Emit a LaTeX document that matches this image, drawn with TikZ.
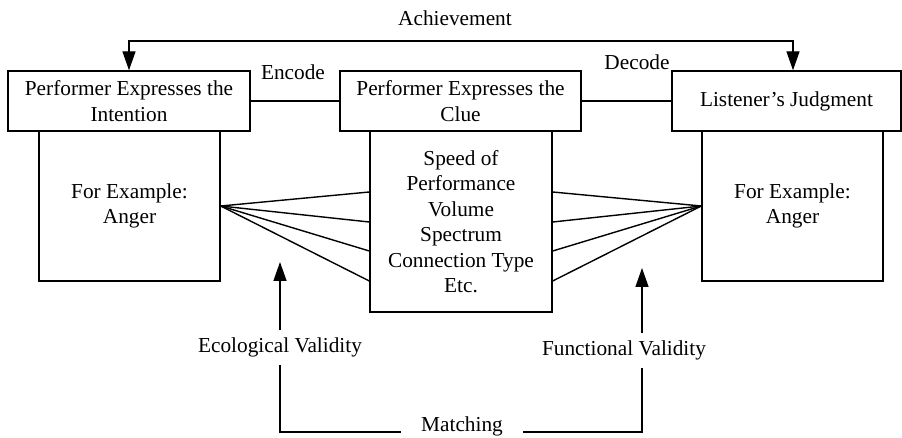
\documentclass[tikz,border=0pt]{standalone}
\usepackage{fontspec}
\setmainfont{Liberation Serif}
\usetikzlibrary{arrows.meta, positioning, calc}

\begin{document}
\begin{tikzpicture}[
    x=1pt, y=-1pt,
    every node/.style={font=\fontsize{21.3}{25.5}\selectfont},
    box/.style={draw,line width=1.4pt,align=center,inner sep=0pt},
    arr/.style={-{Triangle[length=19pt,width=13pt]},line width=1.4pt},
    lnk/.style={line width=1.4pt},
    lbl/.style={inner sep=0pt,outer sep=0pt}
]
  \useasboundingbox (0,0) rectangle (902,438);

  % Boxes
  \node[box,minimum width=242pt,minimum height=60pt] (lt) at (129,101) {Performer Expresses the\\Intention};
  \node[box,minimum width=241pt,minimum height=60pt] (mt) at (460.5,101) {Performer Expresses the\\Clue};
  \node[box,minimum width=229pt,minimum height=60pt] (rt) at (786.5,101) {Listener's Judgment};
  \node[box,minimum width=181pt,minimum height=150pt] (lb) at (129.5,206) {For Example:\\Anger};
  \node[box,minimum width=182pt,minimum height=181pt] (mb) at (461,221.5) {Speed of\\Performance\\Volume\\Spectrum\\Connection Type\\Etc.};
  \node[box,minimum width=181pt,minimum height=150pt] (rb) at (792.5,206) {For Example:\\Anger};

  % Labels
  \node[lbl] (ach) at (455,18) {Achievement};
  \node[lbl] (enc) at (293,72) {Encode};
  \node[lbl] (dec) at (637,62) {Decode};
  \node[lbl] (eco) at (280,347) {Ecological Validity};
  \node[lbl] (fun) at (624,350) {Functional Validity};
  \node[lbl,inner xsep=20pt] (match) at (462,426) {Matching};

  \coordinate (achtop) at (455,41);
  \coordinate (ecotip) at (280,262);
  \coordinate (funtip) at (642,268);

  % Connectors
  \draw[arr,{Triangle[length=19pt,width=13pt]}-{Triangle[length=19pt,width=13pt]}]
    (lt.north) |- (achtop) -| ([xshift=6.5pt]rt.north);
  \draw[lnk] (lt.east) -- (mt.west);
  \draw[lnk] (mt.east) -- (rt.west);

  % Fans
  \foreach \dy in {29.5,-0.5,-29.5,-59.5} {
    \draw[lnk] (lb.east) -- ([yshift=\dy pt]mb.west);
    \draw[lnk] ([yshift=\dy pt]mb.east) -- (rb.west);
  }

  % Validity
  \draw[arr] ([yshift=7pt]eco.north) -- (ecotip);
  \draw[arr] ([xshift=18pt,yshift=7pt]fun.north) -- (funtip);
  \draw[lnk] ([yshift=-8pt]eco.south) |- ([yshift=-6pt]match.west);
  \draw[lnk] ([xshift=18pt,yshift=-8pt]fun.south) |- ([yshift=-6pt]match.east);
\end{tikzpicture}
\end{document}
